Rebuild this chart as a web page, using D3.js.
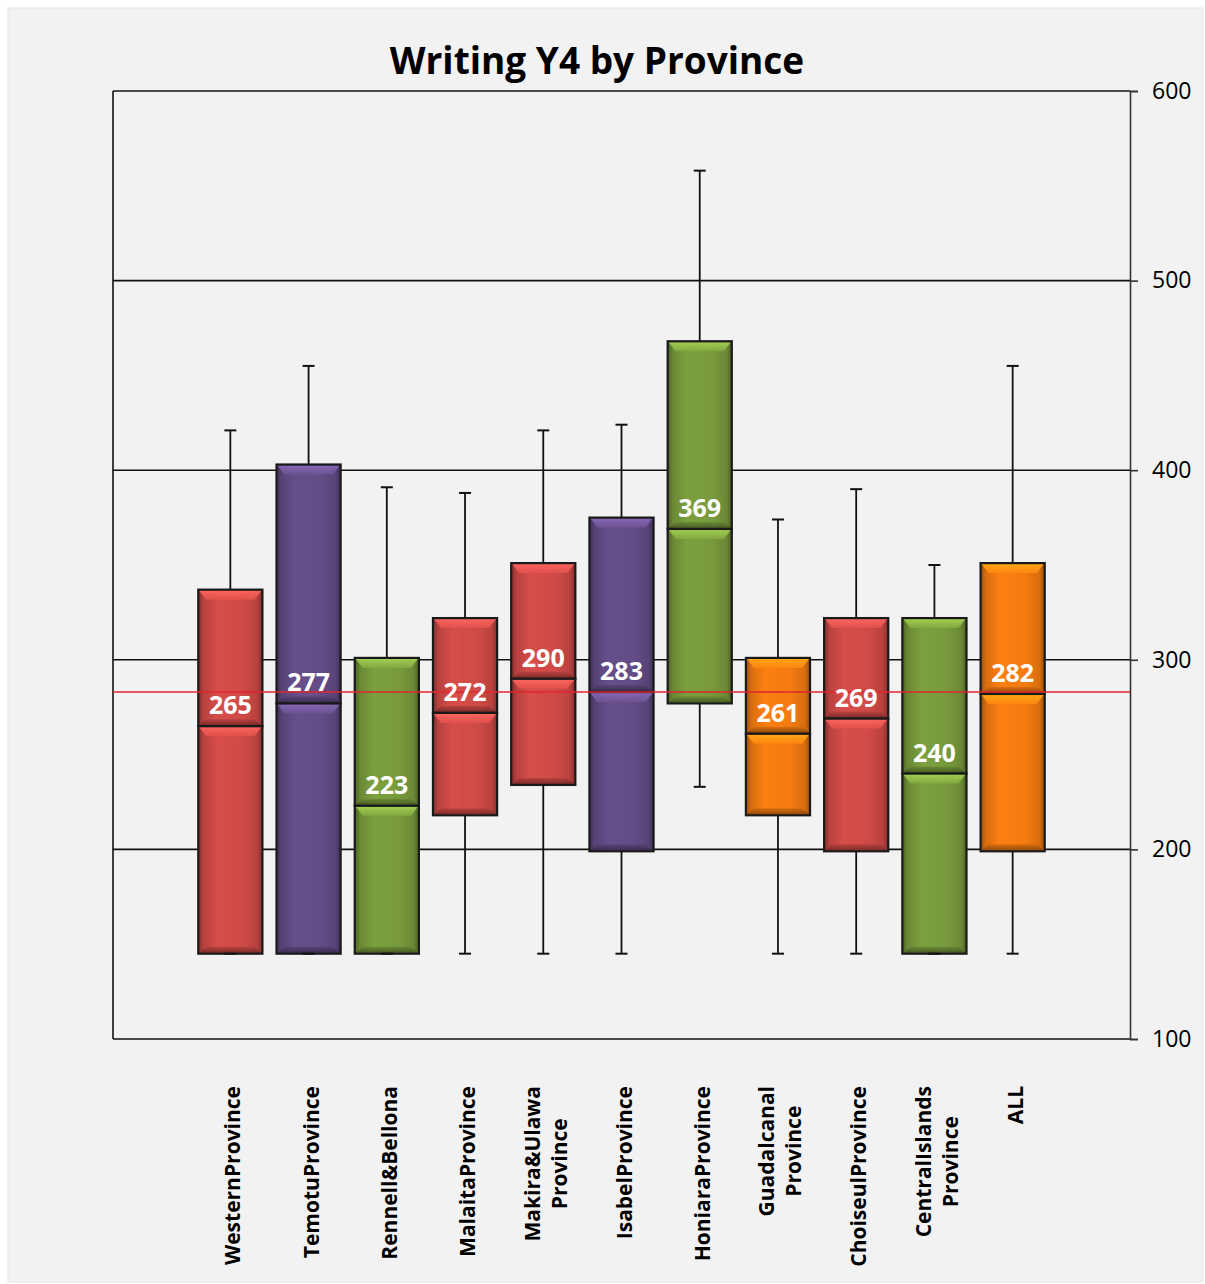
<!DOCTYPE html>
<html><head><meta charset="utf-8">
<script src="https://cdn.jsdelivr.net/npm/d3@7"></script>
<style>body{margin:0;background:#fff;} svg{display:block;}</style>
</head><body><div id="chart"></div>
<script>
const categories = ["WesternProvince","TemotuProvince","Rennell&Bellona","MalaitaProvince","Makira&Ulawa\nProvince","IsabelProvince","HoniaraProvince","Guadalcanal\nProvince","ChoiseulProvince","CentralIslands\nProvince","ALL"];
const minVals = [145,145,145,145,145,145,233,145,145,145,145];
const q1Vals  = [145,145,145,218,234,199,277,218,199,145,199];
const medians = [265,277,223,272,290,283,369,261,269,240,282];
const q3Vals  = [337,403,301,322,351,375,468,301,322,322,351];
const maxVals = [421,455,391,388,421,424,558,374,390,350,455];
const yTicks = [100,200,300,400,500,600];
const refValue = 283;
const colorGroups = ["red","purple","green","red","red","purple","green","orange","red","green","orange"];
const palette = {red:"#cf4a46", purple:"#634c86", green:"#789a3c", orange:"#f47b10"};

const W=1205,H=1284;
const m={left:113,right:75,top:91,bottom:245};
const svg=d3.select("#chart").append("svg").attr("width",W).attr("height",H);
const defs=svg.append("defs");
svg.append("rect").attr("x",8).attr("y",8).attr("width",W-10).attr("height",H-10).attr("fill","#f2f2f2").attr("stroke","#e6e6e6");

const x=d3.scalePoint().domain(categories).range([m.left,W-m.right]).padding(1.5);
const y=d3.scaleLinear().domain([100,600]).range([H-m.bottom,m.top]);
const step=x.step();
const bw=step*0.82;

// gridlines
svg.append("g").selectAll("line").data(yTicks).join("line")
  .attr("x1",m.left).attr("x2",W-m.right).attr("y1",d=>y(d)).attr("y2",d=>y(d))
  .attr("stroke","#111").attr("stroke-width",1.6);
svg.append("line").attr("x1",m.left).attr("x2",m.left).attr("y1",y(600)).attr("y2",y(100)).attr("stroke","#111").attr("stroke-width",1.6);

// y axis right
const yAxis=svg.append("g").attr("transform",`translate(${W-m.right},0)`)
  .call(d3.axisRight(y).tickValues(yTicks).tickSize(8).tickPadding(14).tickFormat(d3.format("d")));
yAxis.select(".domain").attr("stroke","#333").attr("stroke-width",1.6);
yAxis.selectAll(".tick line").attr("stroke","#333").attr("stroke-width",1.6);
yAxis.selectAll("text").attr("font-family","Open Sans").attr("font-size",23).attr("fill","#000");

// gradients per color
Object.entries(palette).forEach(([k,c])=>{
  const g=defs.append("linearGradient").attr("id","h_"+k).attr("x1",0).attr("x2",1).attr("y1",0).attr("y2",0);
  const dk=d3.color(c).darker(1.3), dm=d3.color(c).darker(0.35), br=d3.color(c).brighter(0.1);
  [[0,dk],[0.08,dm],[0.3,br],[0.7,c],[0.92,dm],[1,dk]].forEach(([o,col])=>g.append("stop").attr("offset",o).attr("stop-color",col));
  const t=defs.append("linearGradient").attr("id","t_"+k).attr("x1",0).attr("x2",0).attr("y1",0).attr("y2",1);
  t.append("stop").attr("offset",0).attr("stop-color",d3.color(c).brighter(0.9));
  t.append("stop").attr("offset",1).attr("stop-color",d3.color(c).brighter(0.25));
  const b=defs.append("linearGradient").attr("id","b_"+k).attr("x1",0).attr("x2",0).attr("y1",0).attr("y2",1);
  b.append("stop").attr("offset",0).attr("stop-color",d3.color(c).darker(0.4));
  b.append("stop").attr("offset",1).attr("stop-color",d3.color(c).darker(1.7));
});

const data=categories.map((c,i)=>({c,i,min:minVals[i],q1:q1Vals[i],med:medians[i],q3:q3Vals[i],max:maxVals[i],g:colorGroups[i]}));

// whiskers
const wg=svg.append("g");
data.forEach(d=>{
  const cx=x(d.c);
  wg.append("line").attr("x1",cx).attr("x2",cx).attr("y1",y(d.max)).attr("y2",y(d.q3)).attr("stroke","#111").attr("stroke-width",1.8);
  wg.append("line").attr("x1",cx).attr("x2",cx).attr("y1",y(d.q1)).attr("y2",y(d.min)).attr("stroke","#111").attr("stroke-width",1.8);
});

function segment(g,d,top,bot){
  const x0=x(d.c)-bw/2, x1=x(d.c)+bw/2;
  const yt=y(top), yb=y(bot), h=yb-yt;
  g.append("rect").attr("x",x0).attr("y",yt).attr("width",bw).attr("height",h).attr("fill",`url(#h_${d.g})`);
  const th=Math.min(10,h/2), bh=Math.min(7,h/3);
  g.append("path").attr("d",`M${x0+1},${yt+1}L${x1-1},${yt+1}L${x1-8},${yt+th}L${x0+8},${yt+th}Z`).attr("fill",`url(#t_${d.g})`).attr("opacity",0.9);
  g.append("path").attr("d",`M${x0+1},${yb-1}L${x1-1},${yb-1}L${x1-8},${yb-bh}L${x0+8},${yb-bh}Z`).attr("fill",`url(#b_${d.g})`).attr("opacity",0.85);
  g.append("rect").attr("x",x0).attr("y",yt).attr("width",bw).attr("height",h).attr("fill","none").attr("stroke","#1a1a1a").attr("stroke-width",2.2);
}
const bg=svg.append("g");
data.forEach(d=>{
  const g=bg.append("g");
  segment(g,d,d.q3,d.med);
  segment(g,d,d.med,d.q1);
});

// caps
data.forEach(d=>{
  const cx=x(d.c);
  [d.max,d.min].forEach(v=>wg.append("line").attr("x1",cx-6).attr("x2",cx+6).attr("y1",y(v)).attr("y2",y(v)).attr("stroke","#111").attr("stroke-width",2));
});
wg.raise();

// reference line
svg.append("line").attr("x1",m.left).attr("x2",W-m.right).attr("y1",y(refValue)).attr("y2",y(refValue)).attr("stroke","#e0262e").attr("stroke-width",1.5);

// median labels
svg.append("g").selectAll("text").data(data).join("text")
  .attr("x",d=>x(d.c)).attr("y",d=>y(d.med)-12).attr("text-anchor","middle")
  .attr("font-family","Open Sans").attr("font-weight",700).attr("font-size",25).attr("fill","#fff")
  .text(d=>d.med);

// title
svg.append("text").attr("x",597).attr("y",74).attr("text-anchor","middle")
  .attr("font-family","Open Sans").attr("font-weight",700).attr("font-size",37).attr("fill","#000")
  .text("Writing Y4 by Province");

// x labels rotated
const lg=svg.append("g");
const lineH=27, topY=1086;
data.forEach(d=>{
  const lines=d.c.split("\n");
  const t=lg.append("text").attr("font-family","Open Sans").attr("font-weight",700).attr("font-size",21).attr("fill","#000").attr("text-anchor","middle");
  lines.forEach((l,k)=>t.append("tspan").attr("x",0).attr("dy",k===0?0:lineH).text(l));
  let maxW=0;
  t.selectAll("tspan").each(function(){maxW=Math.max(maxW,this.getComputedTextLength());});
  const cx=x(d.c)+10-(lines.length-1)*lineH/2;
  t.attr("transform",`translate(${cx},${topY+maxW/2}) rotate(-90)`);
});
</script></body></html>
